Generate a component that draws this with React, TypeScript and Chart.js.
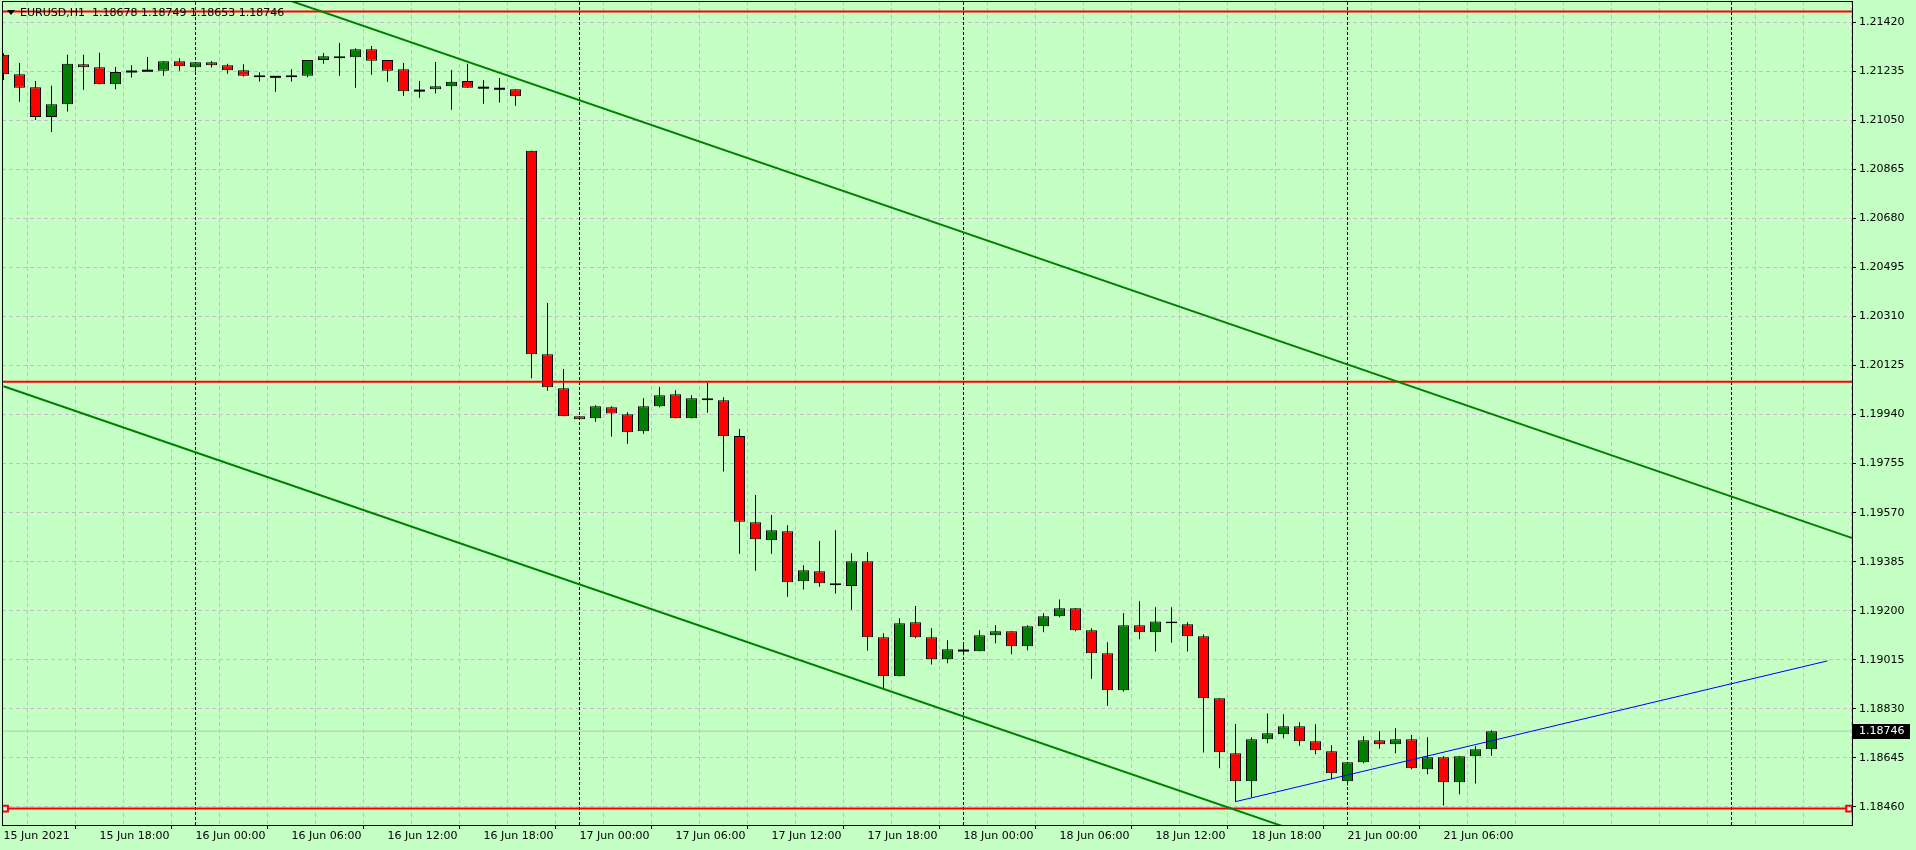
import React, { useEffect, useRef } from 'react';
import { Chart, registerables } from 'chart.js';

Chart.register(...registerables);

// ---------------- data ----------------
const symbolTitle = 'EURUSD,H1';

// H1 bars from 15 Jun 2021 12:00 to 21 Jun 2021 09:00 (bar index = position)
const opens = [
  1.21297, 1.21224, 1.21175, 1.21062, 1.21111, 1.21261, 1.21250, 1.21186, 1.21234, 1.21237,
  1.21237, 1.21273, 1.21250, 1.21269, 1.21258, 1.21239, 1.21220, 1.21214, 1.21212, 1.21218,
  1.21277, 1.21292, 1.21288, 1.21318, 1.21277, 1.21243, 1.21162, 1.21167, 1.21178, 1.21198,
  1.21173, 1.21169, 1.21167, 1.20935, 1.20168, 1.20039, 1.19934, 1.19926, 1.19968, 1.19941,
  1.19877, 1.19971, 1.20017, 1.19926, 1.20002, 1.19994, 1.19859, 1.19534, 1.19466, 1.19500,
  1.19311, 1.19349, 1.19304, 1.19293, 1.19387, 1.19100, 1.18953, 1.19157, 1.19100, 1.19017,
  1.19050, 1.19047, 1.19108, 1.19123, 1.19066, 1.19142, 1.19179, 1.19210, 1.19127, 1.19040,
  1.18900, 1.19145, 1.19119, 1.19160, 1.19149, 1.19104, 1.18870, 1.18663, 1.18557, 1.18715,
  1.18734, 1.18764, 1.18708, 1.18670, 1.18557, 1.18629, 1.18712, 1.18697, 1.18715, 1.18602,
  1.18648, 1.18553, 1.18651, 1.18678,
];
const highs = [
  1.21303, 1.21266, 1.21198, 1.21180, 1.21297, 1.21297, 1.21305, 1.21251, 1.21258, 1.21289,
  1.21273, 1.21284, 1.21269, 1.21274, 1.21263, 1.21261, 1.21231, 1.21215, 1.21243, 1.21277,
  1.21304, 1.21342, 1.21322, 1.21330, 1.21277, 1.21266, 1.21198, 1.21270, 1.21240, 1.21263,
  1.21202, 1.21210, 1.21167, 1.20935, 1.20361, 1.20112, 1.19934, 1.19975, 1.19971, 1.19949,
  1.20002, 1.20044, 1.20032, 1.20013, 1.20059, 1.20005, 1.19886, 1.19637, 1.19561, 1.19523,
  1.19372, 1.19463, 1.19504, 1.19417, 1.19421, 1.19115, 1.19172, 1.19218, 1.19134, 1.19089,
  1.19075, 1.19127, 1.19145, 1.19123, 1.19145, 1.19191, 1.19243, 1.19210, 1.19134, 1.19081,
  1.19191, 1.19236, 1.19213, 1.19213, 1.19157, 1.19111, 1.18870, 1.18773, 1.18723, 1.18813,
  1.18810, 1.18780, 1.18772, 1.18693, 1.18629, 1.18727, 1.18746, 1.18757, 1.18731, 1.18723,
  1.18651, 1.18651, 1.18689, 1.18749,
];
const lows = [
  1.21202, 1.21120, 1.21051, 1.21006, 1.21083, 1.21165, 1.21186, 1.21167, 1.21211, 1.21234,
  1.21218, 1.21237, 1.21234, 1.21249, 1.21226, 1.21215, 1.21196, 1.21158, 1.21196, 1.21212,
  1.21263, 1.21218, 1.21173, 1.21222, 1.21195, 1.21143, 1.21135, 1.21151, 1.21090, 1.21173,
  1.21112, 1.21117, 1.21105, 1.20077, 1.20030, 1.19934, 1.19922, 1.19913, 1.19857, 1.19830,
  1.19868, 1.19968, 1.19926, 1.19926, 1.19947, 1.19725, 1.19415, 1.19351, 1.19415, 1.19253,
  1.19280, 1.19291, 1.19265, 1.19204, 1.19050, 1.18908, 1.18953, 1.19096, 1.18997, 1.19002,
  1.19032, 1.19047, 1.19078, 1.19036, 1.19051, 1.19119, 1.19176, 1.19123, 1.18944, 1.18842,
  1.18896, 1.19093, 1.19046, 1.19080, 1.19046, 1.18665, 1.18606, 1.18480, 1.18497, 1.18700,
  1.18719, 1.18691, 1.18659, 1.18565, 1.18542, 1.18625, 1.18681, 1.18663, 1.18602, 1.18583,
  1.18466, 1.18508, 1.18549, 1.18653,
];
const closes = [
  1.21224, 1.21173, 1.21062, 1.21111, 1.21263, 1.21250, 1.21186, 1.21232, 1.21234, 1.21237,
  1.21273, 1.21254, 1.21269, 1.21258, 1.21239, 1.21218, 1.21212, 1.21214, 1.21220, 1.21277,
  1.21292, 1.21284, 1.21318, 1.21275, 1.21237, 1.21160, 1.21162, 1.21178, 1.21195, 1.21173,
  1.21173, 1.21169, 1.21141, 1.20168, 1.20043, 1.19934, 1.19922, 1.19971, 1.19944, 1.19873,
  1.19971, 1.20013, 1.19926, 1.20002, 1.19994, 1.19858, 1.19536, 1.19470, 1.19504, 1.19308,
  1.19353, 1.19304, 1.19296, 1.19387, 1.19100, 1.18953, 1.19153, 1.19100, 1.19017, 1.19055,
  1.19050, 1.19108, 1.19123, 1.19066, 1.19142, 1.19179, 1.19210, 1.19127, 1.19040, 1.18900,
  1.19145, 1.19119, 1.19160, 1.19153, 1.19104, 1.18870, 1.18666, 1.18557, 1.18715, 1.18738,
  1.18764, 1.18708, 1.18674, 1.18587, 1.18629, 1.18712, 1.18697, 1.18715, 1.18606, 1.18648,
  1.18553, 1.18651, 1.18678, 1.18746,
];

const xLabelBars = [0, 6, 12, 18, 24, 30, 36, 42, 48, 54, 60, 66, 72, 78, 84, 90];
const xLabels = [
  '15 Jun 2021', '15 Jun 18:00', '16 Jun 00:00', '16 Jun 06:00', '16 Jun 12:00', '16 Jun 18:00',
  '17 Jun 00:00', '17 Jun 06:00', '17 Jun 12:00', '17 Jun 18:00', '18 Jun 00:00', '18 Jun 06:00',
  '18 Jun 12:00', '18 Jun 18:00', '21 Jun 00:00', '21 Jun 06:00',
];
const separatorBars = [12, 36, 60, 84, 108];
const yTicks = [
  1.21420, 1.21235, 1.21050, 1.20865, 1.20680, 1.20495, 1.20310, 1.20125, 1.19940,
  1.19755, 1.19570, 1.19385, 1.19200, 1.19015, 1.18830, 1.18645, 1.18460,
];

const levelPrices = [1.21460, 1.20064, 1.18454];
const levelMarkerBars = [0.1, 115.35];
const upperChannelBars = [0, 120];
const upperChannelPrices = [1.21873, 1.19382];
const lowerChannelBars = [0, 120];
const lowerChannelPrices = [1.20047, 1.17556];
const blueTrendBars = [77, 114];
const blueTrendPrices = [1.18480, 1.19011];

// ---------------- view ----------------
const X_MIN = -0.09375;
const X_MAX = 115.53125;
const Y_MIN = 1.18392;
const Y_MAX = 1.215;

const BG = '#c4ffc4';
const GRID = '#c8bcc8';
const BULL = '#008000';
const BEAR = '#ff0000';
const FONT = { family: 'DejaVu Sans', size: 11 };

export default function App() {
  const ref = useRef<HTMLCanvasElement>(null);

  useEffect(() => {
    document.body.style.margin = '0';
    const canvas = ref.current as HTMLCanvasElement;
    const idx = opens.map((_, i) => i);
    const n = closes.length;
    const lastClose = closes[n - 1];
    const full = (p: number) => [{ x: X_MIN, y: p }, { x: X_MAX, y: p }];
    const lineDs = (data: any[], color: string, width: number, order: number, dash: number[] = []) => ({
      type: 'line',
      data,
      borderColor: color,
      borderWidth: width,
      borderDash: dash,
      pointRadius: 0,
      fill: false,
      tension: 0,
      clip: 0,
      order,
    });

    const datasets: any[] = [];
    // bid line
    datasets.push(lineDs(full(lastClose), '#c0c0c0', 1, 20));
    // period separators
    separatorBars.forEach((b) => {
      datasets.push(lineDs([{ x: b, y: Y_MIN }, { x: b, y: Y_MAX }], '#000000', 1, 15, [3, 2]));
    });
    // wicks
    datasets.push({
      type: 'bar',
      data: idx.map((i) => ({ x: i, y: [lows[i], highs[i]] })),
      backgroundColor: '#000000',
      borderWidth: 0,
      barThickness: 1,
      grouped: false,
      inflateAmount: 0,
      clip: 0,
      order: 10,
    });
    // bodies
    datasets.push({
      type: 'bar',
      data: idx.map((i) => ({ x: i, y: [opens[i], closes[i]] })),
      backgroundColor: idx.map((i) => (closes[i] > opens[i] ? BULL : BEAR)),
      borderColor: '#000000',
      borderWidth: 1,
      borderSkipped: false,
      barThickness: 11,
      grouped: false,
      inflateAmount: 0,
      clip: 0,
      order: 9,
    });
    // doji bodies
    datasets.push({
      type: 'line',
      data: idx.filter((i) => opens[i] === closes[i]).map((i) => ({ x: i, y: opens[i] })),
      showLine: false,
      pointStyle: 'line',
      pointRadius: 5.5,
      pointBorderWidth: 2,
      pointBorderColor: '#000000',
      clip: 0,
      order: 8,
    });
    // horizontal levels
    levelPrices.forEach((p) => datasets.push(lineDs(full(p), '#ff0000', 2, 3)));
    // level markers
    datasets.push({
      type: 'line',
      data: levelMarkerBars.map((b) => ({ x: b, y: levelPrices[2] })),
      showLine: false,
      pointStyle: 'rect',
      pointRadius: 4,
      pointBorderWidth: 2,
      pointBorderColor: '#ff0000',
      pointBackgroundColor: '#ffffff',
      clip: 0,
      order: 2,
    });
    // channel lines
    datasets.push(lineDs(upperChannelBars.map((b, k) => ({ x: b, y: upperChannelPrices[k] })), '#008000', 2, 1));
    datasets.push(lineDs(lowerChannelBars.map((b, k) => ({ x: b, y: lowerChannelPrices[k] })), '#008000', 2, 1));
    // blue trend line
    datasets.push(lineDs(blueTrendBars.map((b, k) => ({ x: b, y: blueTrendPrices[k] })), '#0000ff', 1, 0));

    const bgPlugin = {
      id: 'mtBackground',
      beforeDraw(chart: any) {
        const { ctx, width, height } = chart;
        ctx.save();
        ctx.fillStyle = BG;
        ctx.fillRect(0, 0, width, height);
        ctx.restore();
      },
    };

    const overlayPlugin = {
      id: 'mtOverlay',
      afterDraw(chart: any) {
        const { ctx, chartArea } = chart;
        const yScale = chart.scales.y;
        ctx.save();
        // frame
        ctx.strokeStyle = '#000000';
        ctx.lineWidth = 1;
        ctx.strokeRect(chartArea.left + 0.5, chartArea.top + 0.5, chartArea.right - chartArea.left, chartArea.bottom - chartArea.top);
        // current price box
        const py = Math.round(yScale.getPixelForValue(lastClose));
        ctx.fillStyle = '#000000';
        ctx.fillRect(chartArea.right + 1, py - 7, 57, 15);
        ctx.fillStyle = '#ffffff';
        ctx.font = '11px "DejaVu Sans"';
        ctx.textBaseline = 'middle';
        ctx.textAlign = 'left';
        ctx.fillText(lastClose.toFixed(5), chartArea.right + 7, py + 0.5);
        // title
        ctx.fillStyle = '#000000';
        ctx.beginPath();
        ctx.moveTo(7, 10);
        ctx.lineTo(15, 10);
        ctx.lineTo(11, 15);
        ctx.closePath();
        ctx.fill();
        const title = `${symbolTitle}  ${opens[n - 1].toFixed(5)} ${highs[n - 1].toFixed(5)} ${lows[n - 1].toFixed(5)} ${closes[n - 1].toFixed(5)}`;
        ctx.fillText(title, 20, 13);
        ctx.restore();
      },
    };

    const chart = new Chart(canvas, {
      type: 'bar',
      data: { datasets },
      options: {
        animation: false,
        responsive: false,
        events: [],
        layout: { padding: { left: 2, top: 1, right: 0, bottom: 0 }, autoPadding: false },
        plugins: { legend: { display: false }, tooltip: { enabled: false }, title: { display: false } },
        scales: {
          x: {
            type: 'linear',
            position: 'bottom',
            min: X_MIN,
            max: X_MAX,
            bounds: 'data',
            offset: false,
            afterBuildTicks: (s: any) => {
              const t: any[] = [];
              for (let b = 0; b <= X_MAX; b += 3) t.push({ value: b });
              s.ticks = t;
            },
            afterFit: (s: any) => {
              s.height = 25;
              s.paddingLeft = 0;
              s.paddingRight = 0;
            },
            ticks: {
              callback: (v: any) => {
                const k = xLabelBars.indexOf(Number(v));
                return k >= 0 ? xLabels[k] : '';
              },
              align: 'start',
              maxRotation: 0,
              minRotation: 0,
              autoSkip: false,
              padding: 1,
              font: FONT,
              color: '#000000',
            },
            grid: {
              color: GRID,
              lineWidth: 1,
              tickLength: 4,
              tickWidth: 1,
              tickColor: (ctx: any) => (ctx.tick && xLabelBars.includes(ctx.tick.value) ? '#000000' : 'rgba(0,0,0,0)'),
            },
            border: { display: true, color: '#000000', width: 1, dash: [4, 3] },
          },
          y: {
            type: 'linear',
            position: 'right',
            min: Y_MIN,
            max: Y_MAX,
            bounds: 'data',
            afterBuildTicks: (s: any) => {
              s.ticks = yTicks.map((v) => ({ value: v }));
            },
            afterFit: (s: any) => {
              s.width = 64;
              s.paddingTop = 0;
              s.paddingBottom = 0;
            },
            ticks: {
              callback: (v: any) => Number(v).toFixed(5),
              autoSkip: false,
              padding: 3,
              font: FONT,
              color: '#000000',
            },
            grid: {
              color: GRID,
              lineWidth: 1,
              tickLength: 4,
              tickWidth: 1,
              tickColor: '#000000',
            },
            border: { display: true, color: '#000000', width: 1, dash: [4, 3] },
          },
        },
      } as any,
      plugins: [bgPlugin, overlayPlugin],
    } as any);

    return () => chart.destroy();
  }, []);

  return (
    <div style={{ position: 'absolute', left: 0, top: 0, width: 1916, height: 850 }}>
      <canvas ref={ref} width={1916} height={850} style={{ display: 'block', width: 1916, height: 850 }} />
    </div>
  );
}
